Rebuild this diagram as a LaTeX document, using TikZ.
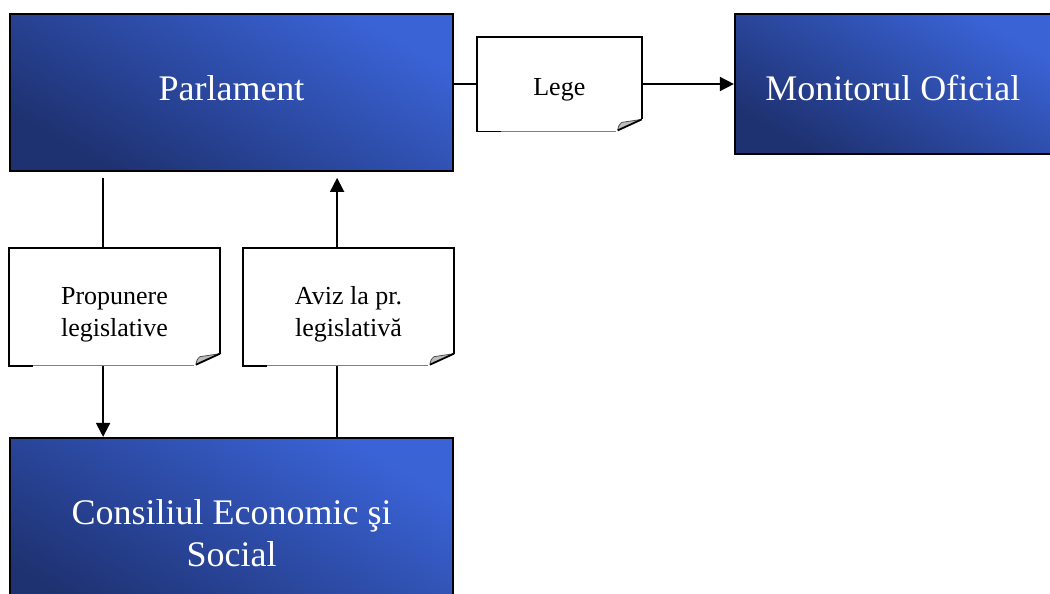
\documentclass[tikz,border=0pt]{standalone}
\usepackage{fontspec}
\setmainfont{Liberation Serif}
\usetikzlibrary{arrows.meta,positioning}
\definecolor{boxlight}{HTML}{3A63D6}
\definecolor{boxdark}{HTML}{1E3170}
\definecolor{foldgray}{HTML}{BDBDBD}
\newcommand{\docstrut}{\rule{0pt}{17pt}}

\begin{document}
\begin{tikzpicture}[
    x=0.5pt, y=-0.5pt,
    box/.style={rectangle, draw=black, line width=0.9pt, top color=boxlight,
                bottom color=boxdark, shading angle=-30, text=white, inner sep=0pt,
                font=\fontsize{18}{21}\selectfont, align=center,
                minimum width=221.5pt, minimum height=78.5pt},
    doc/.style={rectangle, inner sep=0pt, align=center,
                font=\fontsize{13}{16}\selectfont,
                minimum width=105pt, minimum height=58.5pt},
    link/.style={line width=0.9pt},
    arrow/.style={-{Triangle[length=7pt,width=7pt]}, line width=0.9pt}
]
\useasboundingbox (0,0) rectangle (1050,594);

% Top box - Parlament
\node[box, execute at end node={\rule[-4pt]{0pt}{0pt}}] (parl) at (231.5,92.5) {Parlament};

% Right box - Monitorul Oficial
\node[box, minimum width=158pt, minimum height=70pt, anchor=north west,
      execute at begin node={\rule{0pt}{17pt}}]
    (mon) at ([xshift=140pt]parl.north east) {Monitorul Oficial};

% Bottom box - Consiliul Economic si Social
\node[box, minimum height=95pt, below=132.5pt of parl] (cons)
    {Consiliul Economic şi\\Social};

% Documents
\node[doc, minimum width=82pt, minimum height=47pt, anchor=west,
      execute at begin node={\rule{0pt}{14pt}}]
    (lege) at ([xshift=11.5pt]parl.east |- mon.west) {Lege};
\node[doc, anchor=north west] (prop) at ([yshift=-38pt]parl.south west)
    {\docstrut Propunere\\legislative};
\node[doc, anchor=north east] (aviz) at ([yshift=-38pt]parl.south east)
    {\docstrut Aviz la pr.\\legislativă};

% Document outlines with folded corner
\foreach \d in {lege,prop,aviz}{
    \draw[link] ([xshift=12pt]\d.south west) -- (\d.south west) -- (\d.north west)
        -- (\d.north east) -- ([yshift=6pt]\d.south east);
    \draw[gray, line width=0.5pt] ([xshift=12pt]\d.south west) -- ([xshift=-13pt]\d.south east);
    \fill[foldgray] ([yshift=6pt]\d.south east)
        -- ([xshift=-12pt,yshift=0.5pt]\d.south east)
        .. controls ([xshift=-11.5pt,yshift=3pt]\d.south east) .. ([xshift=-10pt,yshift=4.5pt]\d.south east)
        -- cycle;
    \draw[gray!60!black, line width=0.4pt] ([xshift=-12pt,yshift=0.5pt]\d.south east)
        .. controls ([xshift=-11.5pt,yshift=3pt]\d.south east) .. ([xshift=-10pt,yshift=4.5pt]\d.south east)
        -- ([yshift=6pt]\d.south east);
    \draw[link] ([yshift=6pt]\d.south east) -- ([xshift=-12pt,yshift=0.5pt]\d.south east);
}

% Parlament -> Lege -> Monitorul Oficial
\draw[link] (lege.west -| parl.east) -- (lege.west);
\draw[arrow] (lege.east) -- (mon.west);

% Parlament -> Propunere -> Consiliul
\coordinate (pdown) at ([xshift=47pt]prop.north west);
\draw[link, shorten <=3pt] (pdown |- parl.south) -- (pdown);
\draw[arrow] (pdown |- prop.south) -- (pdown |- cons.north);

% Consiliul -> Aviz -> Parlament
\coordinate (aup) at ([xshift=47pt]aviz.north west);
\draw[link] (aup |- cons.north) -- (aup |- aviz.south);
\draw[arrow, shorten >=3pt] (aup) -- (aup |- parl.south);

\end{tikzpicture}
\end{document}
